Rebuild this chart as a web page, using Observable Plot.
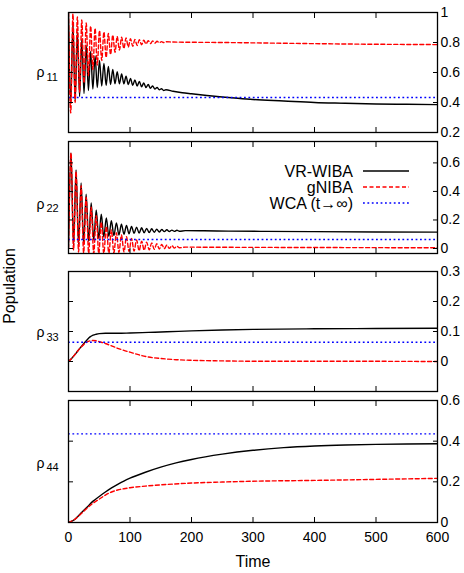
<!DOCTYPE html>
<html>
<head>
<meta charset="utf-8">
<script src="https://cdn.jsdelivr.net/npm/d3@7"></script>
<script src="https://cdn.jsdelivr.net/npm/@observablehq/plot@0.6"></script>
<style>
  html, body { margin: 0; padding: 0; background: #fff; }
  #chart { position: relative; width: 464px; height: 573px; font-family: "Liberation Sans", Arial, Helvetica, sans-serif; }
  #chart svg { position: absolute; left: 0; overflow: visible; }
</style>
</head>
<body>
<div id="chart"></div>
<script>
// ---------------- data ----------------
const seriesNames = ["VR-WIBA", "gNIBA", "WCA (t\u2192\u221e)"];
const panelLabels = ["11", "22", "33", "44"];
const xTicks = [0, 100, 200, 300, 400, 500, 600];

// WCA long-time values (one per panel)
const wca = [0.433, 0.063, 0.064, 0.436];

// rho_11
const t11 = [0, 3.6, 7.2, 10.8, 14.4, 18, 21.6, 25.2, 28.8, 32.4, 36, 39.6, 43.2, 46.8, 50.4, 54, 57.6, 61.2, 64.8, 68.4, 72, 75.6, 79.2, 82.8, 86.4, 90, 93.6, 97.2, 100.8, 104.4, 108, 111.6, 115.2, 118.8, 122.4, 126, 129.6, 133.2, 136.8, 140.4, 144, 147.6, 151.2, 154.8, 158.4];
const vr11 = [1.00, 0.40, 0.93, 0.41, 0.87, 0.44, 0.82, 0.46, 0.78, 0.48, 0.74, 0.49, 0.71, 0.50, 0.68, 0.51, 0.66, 0.515, 0.64, 0.52, 0.62, 0.525, 0.605, 0.525, 0.59, 0.525, 0.575, 0.52, 0.56, 0.515, 0.55, 0.51, 0.54, 0.505, 0.53, 0.50, 0.52, 0.495, 0.51, 0.49, 0.50, 0.485, 0.492, 0.48, 0.485];
const vr11TailT = [170, 185, 200, 225, 250, 275, 300, 350, 400, 450, 500, 550, 600];
const vr11Tail = [0.475, 0.465, 0.458, 0.447, 0.437, 0.428, 0.42, 0.41, 0.40, 0.395, 0.39, 0.388, 0.386];
const gn11 = [1.00, 0.33, 0.99, 0.40, 0.97, 0.47, 0.95, 0.53, 0.93, 0.58, 0.91, 0.62, 0.895, 0.65, 0.88, 0.68, 0.87, 0.70, 0.86, 0.72, 0.85, 0.735, 0.84, 0.75, 0.835, 0.76, 0.83, 0.77, 0.825, 0.775, 0.82, 0.78, 0.818, 0.785, 0.815, 0.79, 0.812, 0.793, 0.81, 0.796, 0.808, 0.798, 0.806, 0.80, 0.805];
const gn11TailT = [170, 250, 350, 450, 600];
const gn11Tail = [0.803, 0.80, 0.795, 0.79, 0.786];

// rho_22
const t22 = [0, 4.1, 8.2, 12.3, 16.4, 20.5, 24.6, 28.7, 32.8, 36.9, 41, 45.1, 49.2, 53.3, 57.4, 61.5, 65.6, 69.7, 73.8, 77.9, 82, 86.1, 90.2, 94.3, 98.4, 102.5, 106.6, 110.7, 114.8, 118.9, 123, 127.1, 131.2, 135.3, 139.4, 143.5, 147.6, 151.7, 155.8, 159.9, 164, 168.1, 172.2, 176.3, 180.4];
const vr22 = [0.00, 0.67, 0.02, 0.55, 0.03, 0.46, 0.04, 0.38, 0.05, 0.32, 0.06, 0.27, 0.07, 0.24, 0.08, 0.215, 0.085, 0.195, 0.09, 0.18, 0.095, 0.17, 0.10, 0.162, 0.103, 0.155, 0.106, 0.15, 0.108, 0.145, 0.11, 0.141, 0.112, 0.138, 0.114, 0.135, 0.116, 0.133, 0.118, 0.131, 0.119, 0.129, 0.12, 0.128, 0.121];
const vr22TailT = [190, 220, 260, 320, 400, 500, 600];
const vr22Tail = [0.125, 0.124, 0.122, 0.12, 0.118, 0.116, 0.115];
const gn22 = [0.00, 0.67, -0.01, 0.54, -0.025, 0.44, -0.03, 0.36, -0.035, 0.29, -0.035, 0.23, -0.035, 0.185, -0.035, 0.155, -0.033, 0.13, -0.03, 0.11, -0.027, 0.095, -0.024, 0.082, -0.021, 0.07, -0.018, 0.06, -0.015, 0.052, -0.012, 0.045, -0.009, 0.039, -0.006, 0.033, -0.003, 0.028, -0.001, 0.024, 0.001, 0.02, 0.003, 0.016, 0.005];
const gn22TailT = [190, 220, 300, 400, 500, 600];
const gn22Tail = [0.01, 0.009, 0.008, 0.007, 0.006, 0.005];

// rho_33
const vr33T = [0, 5, 10, 15, 20, 25, 30, 35, 40, 45, 50, 60, 70, 80, 100, 130, 160, 200, 250, 300, 400, 500, 600];
const vr33 = [0, 0.01, 0.022, 0.035, 0.048, 0.06, 0.072, 0.082, 0.088, 0.091, 0.093, 0.094, 0.094, 0.094, 0.095, 0.097, 0.099, 0.102, 0.105, 0.107, 0.109, 0.11, 0.111];
const gn33T = [0, 5, 10, 15, 20, 25, 30, 35, 40, 45, 50, 60, 70, 80, 90, 100, 115, 130, 150, 175, 200, 250, 300, 400, 600];
const gn33 = [0, 0.01, 0.022, 0.035, 0.047, 0.057, 0.065, 0.069, 0.07, 0.069, 0.066, 0.06, 0.052, 0.044, 0.037, 0.031, 0.022, 0.015, 0.01, 0.006, 0.004, 0.002, 0.001, 0.001, 0.0];

// rho_44
const vr44T = [0, 10, 20, 30, 40, 50, 60, 70, 80, 90, 100, 125, 150, 175, 200, 250, 300, 350, 400, 450, 500, 550, 600];
const vr44 = [0, 0.015, 0.045, 0.075, 0.105, 0.128, 0.15, 0.17, 0.188, 0.204, 0.218, 0.247, 0.272, 0.293, 0.31, 0.336, 0.355, 0.368, 0.376, 0.381, 0.384, 0.386, 0.387];
const gn44T = [0, 10, 20, 30, 40, 50, 60, 70, 80, 90, 100, 125, 150, 200, 250, 300, 400, 500, 600];
const gn44 = [0, 0.015, 0.042, 0.07, 0.095, 0.115, 0.135, 0.15, 0.16, 0.166, 0.171, 0.179, 0.185, 0.194, 0.199, 0.203, 0.207, 0.212, 0.217];

// ---------------- build tables ----------------
const toRows = (ts, vs) => ts.map((t, i) => ({t, v: vs[i]}));
const series = [
  {vr: toRows(t11.concat(vr11TailT), vr11.concat(vr11Tail)), gn: toRows(t11.concat(gn11TailT), gn11.concat(gn11Tail))},
  {vr: toRows(t22.concat(vr22TailT), vr22.concat(vr22Tail)), gn: toRows(t22.concat(gn22TailT), gn22.concat(gn22Tail))},
  {vr: toRows(vr33T, vr33), gn: toRows(gn33T, gn33)},
  {vr: toRows(vr44T, vr44), gn: toRows(gn44T, gn44)}
];

// layout (page px of each frame) and y scales
const layout = [
  {top: 12, bottom: 132, domain: [0.2, 1], ticks: [0.2, 0.4, 0.6, 0.8, 1], rhoDy: 4.5, subDy: 8.5},
  {top: 141, bottom: 253, domain: [-0.035, 0.75], ticks: [0, 0.2, 0.4, 0.6], rhoDy: 11.5, subDy: 14.5},
  {top: 271, bottom: 391, domain: [-0.1, 0.3], ticks: [0, 0.1, 0.2, 0.3], rhoDy: 5.5, subDy: 9},
  {top: 400, bottom: 522, domain: [0, 0.6], ticks: [0, 0.2, 0.4, 0.6], rhoDy: 6, subDy: 9.5}
];

const BLACK = "#000000", RED = "#ff0000", BLUE = "#0000ff";
const colors = [BLACK, RED, BLUE];
const dashes = [null, "4,2.5", "1.8,2.6"];
const FONT = "'Liberation Sans', Arial, Helvetica, sans-serif";
const fmt = d => String(d);

const chart = document.getElementById("chart");

layout.forEach((L, i) => {
  const last = i === layout.length - 1;
  const mTop = 12, mBottom = last ? 51 : 12;
  const marks = [
    Plot.line(series[i].vr, {x: "t", y: "v", stroke: BLACK, strokeWidth: 1.4, curve: "monotone-x", clip: true}),
    Plot.line(series[i].gn, {x: "t", y: "v", stroke: RED, strokeWidth: 1.4, strokeDasharray: dashes[1], curve: "monotone-x", clip: true}),
    Plot.ruleY([wca[i]], {stroke: BLUE, strokeWidth: 1.4, strokeDasharray: dashes[2]}),
    Plot.frame({stroke: BLACK, strokeWidth: 1.3}),
    Plot.axisY(L.ticks, {anchor: "right", tickSize: -5, tickPadding: 8, fontSize: 14, label: null, tickFormat: fmt}),
    Plot.axisY(L.ticks, {anchor: "left", tickSize: -5, tickFormat: () => "", label: null}),
    Plot.axisX(xTicks, {anchor: "top", tickSize: -5, tickFormat: () => "", label: null}),
    Plot.axisX(xTicks, {anchor: "bottom", tickSize: -5, tickPadding: 14.5, fontSize: 14, label: null,
      tickFormat: last ? fmt : (() => "")}),
    Plot.text(["\u03c1"], {frameAnchor: "left", dx: -32, dy: L.rhoDy, textAnchor: "start", lineAnchor: "bottom", fontSize: 14, text: d => d}),
    Plot.text([panelLabels[i]], {frameAnchor: "left", dx: -22, dy: L.subDy, textAnchor: "start", lineAnchor: "bottom", fontSize: 11, text: d => d})
  ];
  if (last) {
    marks.push(Plot.text(["Time"], {frameAnchor: "bottom", dy: 44.5, lineAnchor: "bottom", fontSize: 16, text: d => d}));
  }
  const svg = Plot.plot({
    width: 464,
    height: mTop + (L.bottom - L.top) + mBottom,
    marginLeft: 68, marginRight: 27, marginTop: mTop, marginBottom: mBottom,
    x: {domain: [0, 600], label: null},
    y: {domain: L.domain, label: null},
    style: {fontFamily: FONT, fontSize: "14px", color: "#000", background: "transparent", overflow: "visible"},
    marks
  });
  svg.style.top = (L.top - mTop) + "px";
  chart.appendChild(svg);
});

// overlay: y label and legend
const ov = d3.select(chart).append("svg")
  .attr("width", 464).attr("height", 573)
  .style("top", "0px").style("pointer-events", "none")
  .style("font-family", FONT);

ov.append("text")
  .attr("transform", "translate(15,286) rotate(-90)")
  .attr("text-anchor", "middle")
  .attr("font-size", 16)
  .text("Population");

const legendY = [171, 187, 203];
seriesNames.forEach((name, k) => {
  ov.append("text")
    .attr("x", 353).attr("y", legendY[k] + 5.5)
    .attr("text-anchor", "end").attr("font-size", 16)
    .text(name);
  ov.append("line")
    .attr("x1", 363).attr("x2", 409)
    .attr("y1", legendY[k]).attr("y2", legendY[k])
    .attr("stroke", colors[k]).attr("stroke-width", 1.4)
    .attr("stroke-dasharray", dashes[k]);
});
</script>
</body>
</html>
